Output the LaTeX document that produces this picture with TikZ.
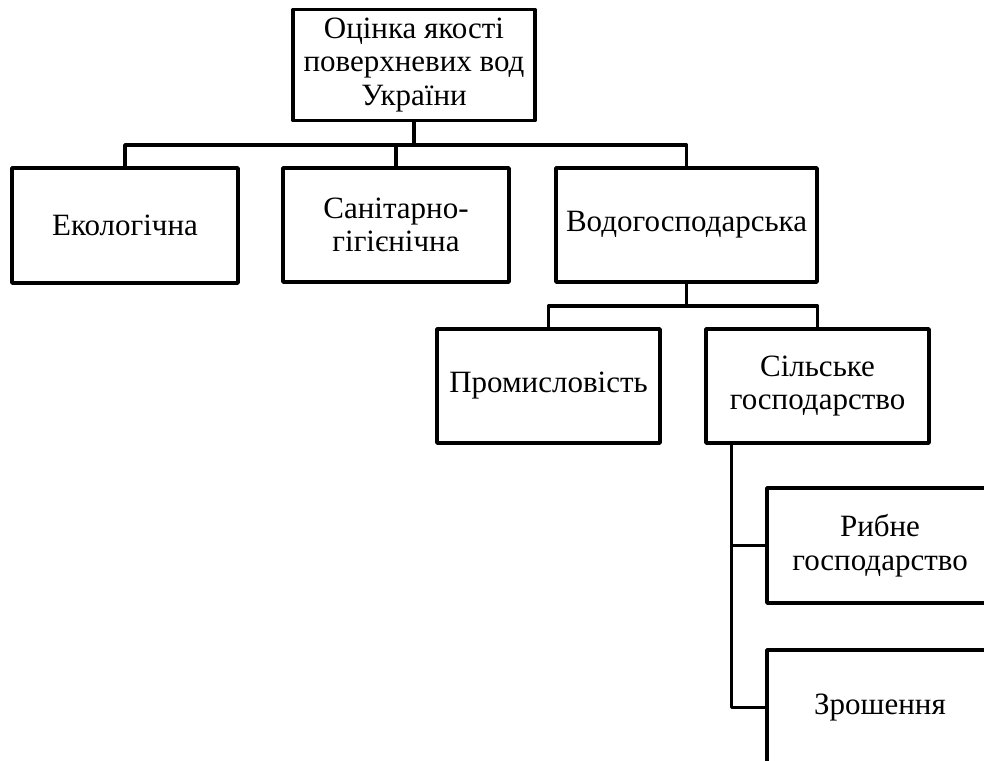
\documentclass[tikz,border=0pt]{standalone}
\usepackage{fontspec}
\setmainfont{Liberation Serif}
\begin{document}
\begin{tikzpicture}[x=1pt,y=-1pt,
  box/.style={draw=black,line width=3.5pt,line join=round,inner sep=0pt,align=center,
    font=\fontsize{31}{33.5}\selectfont},
  link/.style={draw=black,line width=3.5pt,line join=round}]
\useasboundingbox (0,0) rectangle (984,760);
\clip (0,0) rectangle (984,760);
\fill[white] (0,0) rectangle (984,760);
\node[box,minimum width=242pt,minimum height=111pt] (top) at (414,65) {Оцінка якості\\поверхневих вод\\України};
\node[box,minimum width=226pt,minimum height=115pt] (eko) at (125,225.5) {Екологічна};
\node[box,minimum width=226pt,minimum height=114pt] (san) at (396,225) {Санітарно-\\гігієнічна};
\node[box,minimum width=261pt,minimum height=114pt] (vod) at (686.5,225) {Водогосподарська};
\node[box,minimum width=223pt,minimum height=114pt] (prom) at (548.5,386) {Промисловість};
\node[box,minimum width=223pt,minimum height=114pt] (sil) at (817.5,386) {Сільське\\господарство};
\node[box,minimum width=226pt,minimum height=115pt] (ryb) at (880,545.5) {Рибне\\господарство};
\node[box,minimum width=226pt,minimum height=115pt] (zro) at (880,707.5) {Зрошення};
\coordinate (j1) at (414,145);
\coordinate (j2) at (686.5,306);
\draw[link] (top.south) -- (j1);
\draw[link] (eko.north) -- (eko.north |- j1) -- (vod.north |- j1) -- (vod.north);
\draw[link] (san.north) -- (san.north |- j1);
\draw[link] (vod.south) -- (j2);
\draw[link] (prom.north) -- (prom.north |- j2) -- (sil.north |- j2) -- (sil.north);
\draw[link] ([xshift=27pt]sil.south west) |- (zro.west);
\draw[link] ([xshift=27pt]sil.south west |- ryb.west) -- (ryb.west);
\end{tikzpicture}
\end{document}
